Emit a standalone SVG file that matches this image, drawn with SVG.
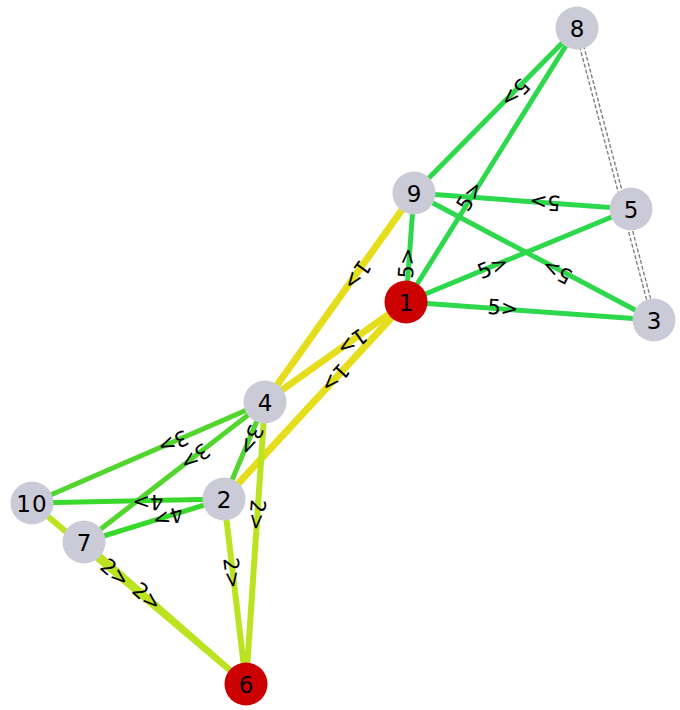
<svg xmlns="http://www.w3.org/2000/svg" width="680" height="710" viewBox="0 0 680 710">
<style>
.e{fill:none;stroke-linecap:butt}
.w1{stroke:#e6de1c;stroke-width:7}
.w2{stroke:#bce31f;stroke-width:6}
.w3{stroke:#52d62d;stroke-width:5}
.w4{stroke:#38d92c;stroke-width:5}
.w5{stroke:#2ed84c;stroke-width:5}
.d{stroke:#808080;stroke-width:1.4;stroke-dasharray:4,2;fill:none}
.el{font-family:"DejaVu Sans",sans-serif;font-size:21px;fill:#000;text-anchor:middle;dominant-baseline:central}
.n{fill:#cbcbd7}
.r{fill:#cc0000}
.nl{font-family:"DejaVu Sans",sans-serif;font-size:23px;fill:#000;text-anchor:middle;dominant-baseline:central}
</style>
<g id="edges">
<line class="d" x1="575" y1="29" x2="652" y2="320"/>
<line class="d" x1="579" y1="28" x2="656" y2="319"/>
<line class="e w5" x1="577" y1="28" x2="414" y2="193"/>
<line class="e w5" x1="406" y1="302" x2="577" y2="28"/>
<line class="e w5" x1="631" y1="209" x2="414" y2="193"/>
<line class="e w5" x1="654" y1="320" x2="414" y2="193"/>
<line class="e w5" x1="406" y1="302" x2="631" y2="209"/>
<line class="e w5" x1="406" y1="302" x2="654" y2="320"/>
<line class="e w5" x1="406" y1="302" x2="414" y2="193"/>
<line class="e w3" x1="265" y1="402" x2="32" y2="503"/>
<line class="e w3" x1="265" y1="402" x2="84" y2="542"/>
<line class="e w3" x1="265" y1="402" x2="224" y2="499"/>
<line class="e w4" x1="224" y1="499" x2="32" y2="503"/>
<line class="e w4" x1="224" y1="499" x2="84" y2="542"/>
<line class="e w1" x1="414" y1="193" x2="265" y2="402"/>
<line class="e w1" x1="406" y1="302" x2="265" y2="402"/>
<line class="e w1" x1="406" y1="302" x2="224" y2="499"/>
<line class="e w2" x1="265" y1="402" x2="246" y2="684"/>
<line class="e w2" x1="224" y1="499" x2="246" y2="684"/>
<line class="e w2" x1="32" y1="503" x2="246" y2="684"/>
<line class="e w2" x1="84" y1="542" x2="246" y2="684"/>
<text class="el" transform="translate(515,93) rotate(134.7)">5&gt;</text>
<text class="el" transform="translate(470,196) rotate(-58)">5&gt;</text>
<text class="el" transform="translate(545,202) rotate(184.2)">5&gt;</text>
<text class="el" transform="translate(557,271) rotate(207.9)">5&gt;</text>
<text class="el" transform="translate(493,267) rotate(-22.5)">5&gt;</text>
<text class="el" transform="translate(503,308) rotate(4.2)">5&gt;</text>
<text class="el" transform="translate(407,263) rotate(-85.8)">5&gt;</text>
<text class="el" transform="translate(357,275) rotate(125.5)">1&gt;</text>
<text class="el" transform="translate(352,342) rotate(144.7)">1&gt;</text>
<text class="el" transform="translate(335,378) rotate(132.7)">1&gt;</text>
<text class="el" transform="translate(173,442) rotate(156.6)">3&gt;</text>
<text class="el" transform="translate(195,457) rotate(142.3)">3&gt;</text>
<text class="el" transform="translate(251,440) rotate(112.9)">3&gt;</text>
<text class="el" transform="translate(148,502) rotate(178.8)">4&gt;</text>
<text class="el" transform="translate(168,517) rotate(162.9)">4&gt;</text>
<text class="el" transform="translate(257,515) rotate(93.9)">2&gt;</text>
<text class="el" transform="translate(232,573) rotate(83.2)">2&gt;</text>
<text class="el" transform="translate(115,573) rotate(40.2)">2&gt;</text>
<text class="el" transform="translate(147,597) rotate(41.2)">2&gt;</text>
</g>
<g id="n8"><circle class="n" cx="577" cy="28" r="21.5"/><text class="nl" x="577" y="29">8</text></g>
<g id="n9"><circle class="n" cx="414" cy="193" r="21.5"/><text class="nl" x="414" y="194">9</text></g>
<g id="n5"><circle class="n" cx="631" cy="209" r="21.5"/><text class="nl" x="631" y="210">5</text></g>
<g id="n1"><circle class="r" cx="406" cy="302" r="21.5"/><text class="nl" x="406" y="303">1</text></g>
<g id="n3"><circle class="n" cx="654" cy="320" r="21.5"/><text class="nl" x="654" y="321">3</text></g>
<g id="n4"><circle class="n" cx="265" cy="402" r="21.5"/><text class="nl" x="265" y="403">4</text></g>
<g id="n2"><circle class="n" cx="224" cy="499" r="21.5"/><text class="nl" x="224" y="500">2</text></g>
<g id="n10"><circle class="n" cx="32" cy="503" r="21.5"/><text class="nl" x="32" y="504" letter-spacing="1">10</text></g>
<g id="n7"><circle class="n" cx="84" cy="542" r="21.5"/><text class="nl" x="84" y="543">7</text></g>
<g id="n6"><circle class="r" cx="246" cy="684" r="21.5"/><text class="nl" x="246" y="685">6</text></g>
</svg>
